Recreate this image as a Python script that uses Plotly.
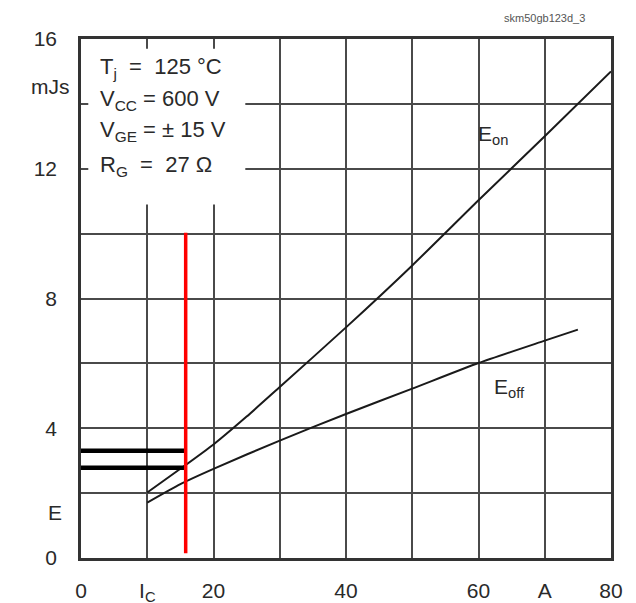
import plotly.graph_objects as go

# ---- data ----
ic_on = [10, 15, 20, 25, 30, 40, 50, 60, 70, 80]
e_on = [2.02, 2.75, 3.5, 4.36, 5.27, 7.11, 9.02, 11.03, 13.0, 15.0]

ic_off = [10, 15, 20, 30, 40, 50, 60, 70, 75]
e_off = [1.71, 2.28, 2.75, 3.62, 4.44, 5.22, 6.01, 6.7, 7.04]

x_tickvals = [0, 10, 20, 30, 40, 50, 60, 70, 80]
x_ticktext = ["0", "I<sub>C</sub>", "20", "", "40", "", "60", "A", "80"]
y_tickvals = [0, 2, 4, 6, 8, 10, 12, 14, 16]
y_ticktext = ["0", "", "4", "", "8", "", "12", "", "16"]

marker_x = [15.8, 15.8]
marker_y = [0.15, 10.03]
level_x = [0, 15.8]
level_on = [3.31, 3.31]
level_off = [2.78, 2.78]

cond_lines = ["T<sub>j</sub>&nbsp; = &nbsp;125 °C", "V<sub>CC</sub> = 600 V",
              "V<sub>GE</sub> = ± 15 V", "R<sub>G</sub>&nbsp; = &nbsp;27 Ω"]
cond_y = [15.1, 14.12, 13.15, 12.1]

FONT = "Liberation Sans, Arial, sans-serif"
TXT = "#2a2a2a"
GRID = "#4a4a4a"

fig = go.Figure()
fig.add_trace(go.Scatter(x=ic_on, y=e_on, mode="lines",
                         line=dict(color="#1a1a1a", width=2, shape="spline", smoothing=0.6),
                         showlegend=False))
fig.add_trace(go.Scatter(x=ic_off, y=e_off, mode="lines",
                         line=dict(color="#1a1a1a", width=2, shape="spline", smoothing=0.6),
                         showlegend=False))
fig.add_trace(go.Scatter(x=level_x, y=level_on, mode="lines",
                         line=dict(color="black", width=4.5), showlegend=False))
fig.add_trace(go.Scatter(x=level_x, y=level_off, mode="lines",
                         line=dict(color="black", width=4.5), showlegend=False))
fig.add_trace(go.Scatter(x=marker_x, y=marker_y, mode="lines",
                         line=dict(color="#ff0000", width=3.5), showlegend=False))

# white box behind the conditions text (hides grid)
fig.add_shape(type="rect", xref="x", yref="y", x0=1.1, x1=24.8, y0=10.9, y1=15.7,
              fillcolor="white", line=dict(width=0), layer="between")

for t, yy in zip(cond_lines, cond_y):
    fig.add_annotation(x=2.5, y=yy, xref="x", yref="y", text=t, showarrow=False,
                       xanchor="left", yanchor="middle",
                       font=dict(family=FONT, size=22, color=TXT))

fig.add_annotation(x=59.6, y=13.05, text="E<sub>on</sub>", showarrow=False,
                   xanchor="left", yanchor="middle",
                   font=dict(family=FONT, size=21, color=TXT))
fig.add_annotation(x=62.0, y=5.25, text="E<sub>off</sub>", showarrow=False,
                   xanchor="left", yanchor="middle",
                   font=dict(family=FONT, size=21, color=TXT))

# axis unit labels
fig.add_annotation(xref="paper", yref="y", x=0, y=14.55, text="mJs", showarrow=False,
                   xanchor="right", yanchor="middle", xshift=-9,
                   font=dict(family=FONT, size=21, color=TXT))
fig.add_annotation(xref="paper", yref="y", x=0, y=1.4, text="E", showarrow=False,
                   xanchor="right", yanchor="middle", xshift=-17,
                   font=dict(family=FONT, size=21, color=TXT))
fig.add_annotation(xref="x", yref="paper", x=70, y=1, text="skm50gb123d_3",
                   showarrow=False, xanchor="center", yanchor="middle", yshift=21,
                   font=dict(family=FONT, size=11, color="#555"))

fig.update_xaxes(range=[0, 80], tickvals=x_tickvals, ticktext=x_ticktext,
                 showgrid=True, gridcolor=GRID, gridwidth=1.6, zeroline=False,
                 showline=True, mirror=True, linecolor="#333", linewidth=2.5,
                 ticks="", ticklabelstandoff=12, automargin=False,
                 tickfont=dict(family=FONT, size=21, color=TXT))
fig.update_yaxes(range=[0, 16], tickvals=y_tickvals, ticktext=y_ticktext,
                 showgrid=True, gridcolor=GRID, gridwidth=1.6, zeroline=False,
                 showline=True, mirror=True, linecolor="#333", linewidth=2.5,
                 ticks="", ticklabelstandoff=17, automargin=False,
                 tickfont=dict(family=FONT, size=21, color=TXT))

fig.update_layout(width=636, height=603, paper_bgcolor="white", plot_bgcolor="white",
                  margin=dict(l=81, r=25, t=39, b=45), showlegend=False)

fig.write_html("out.html")
